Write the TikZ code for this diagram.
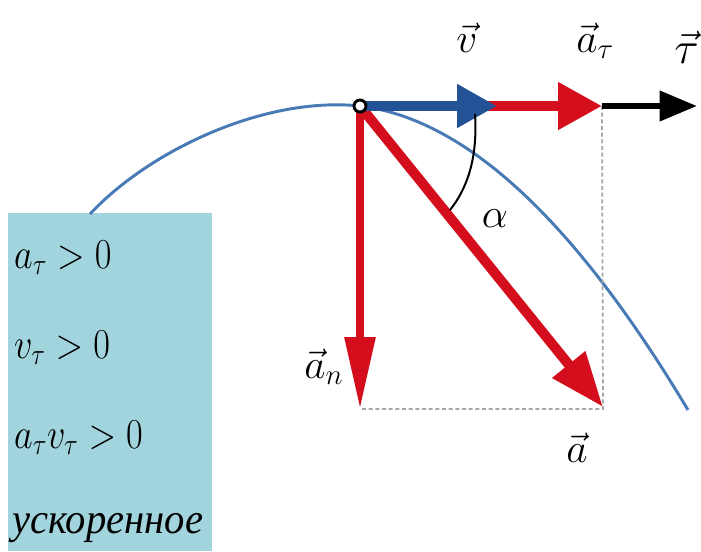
\documentclass[tikz,border=0pt]{standalone}
\usepackage{fix-cm}
\usepackage{amsmath}
\usepackage{fontspec}
\setmainfont{Liberation Serif}
\usetikzlibrary{arrows.meta}

\definecolor{boxblue}{RGB}{162,212,222}
\definecolor{curveblue}{RGB}{72,122,182}
\definecolor{vblue}{RGB}{36,82,150}
\definecolor{vred}{RGB}{212,14,28}

\begin{document}
\begin{tikzpicture}[x=0.75pt,y=-0.75pt,
    lbl/.style={font=\fontsize{31}{36}\selectfont, inner sep=0pt},
    boxtxt/.style={font=\fontsize{32}{36}\selectfont, inner sep=0pt, anchor=base west, xscale=0.85}]
    \useasboundingbox (0,0) rectangle (701,551);
    \fill[boxblue] (8,213) rectangle (212,551);
    % points of the picture
    \coordinate (O) at (360,106);
    \coordinate (vtip) at (497,106);
    \coordinate (attip) at (602,106);
    \coordinate (tautip) at (697,106);
    \coordinate (antip) at (360,409);
    \coordinate (atip) at (603,407);
    \coordinate (corner) at (603,409);
    % trajectory
    \draw[curveblue, line width=2.2pt] (90,214) .. controls (150,150) and (265,96) .. (O)
        .. controls (466,119) and (575,221) .. (688,410);
    % projections
    \draw[gray!70, line width=1.3pt, dash pattern=on 3pt off 2pt] (attip) -- (corner) -- (antip);
    % vectors
    \draw[vred, line width=7.5pt, -{Triangle[length=41pt,width=30pt]}] (O) -- (atip);
    \draw[vred, line width=6pt, -{Triangle[length=54pt,width=22pt]}] (O) -- (antip);
    \draw[black, line width=4.5pt, -{Triangle[length=28pt,width=22pt]}] (attip) -- (tautip);
    \draw[vred, line width=7.5pt, -{Triangle[length=33pt,width=34pt]}] (O) -- (attip);
    \draw[vblue, line width=7.5pt, -{Triangle[length=30pt,width=31pt]}] (O) -- (vtip);
    % angle
    \draw[black, line width=1.5pt] (475,114) .. controls (478,160) and (466,190) .. (450,210);
    \draw[black, line width=2.2pt, fill=white] (O) circle (6);
    % labels
    \node[lbl, anchor=base] (vlbl) at (467,52) {$\vec{v}$};
    \node[lbl, anchor=base west] (atlbl) at (576,52) {$\vec{a}_\tau$};
    \node[lbl, anchor=base west] (taulbl) at (674,63) {\fontsize{34}{36}\selectfont$\vec{\tau}$};
    \node[lbl, anchor=base west] (anlbl) at (304,378) {$\vec{a}_n$};
    \node[lbl, anchor=base west] (albl) at (566,462) {$\vec{a}$};
    \node[lbl, anchor=base] (alpha) at (495,227) {$\alpha$};
    % conditions
    \node[boxtxt] (c1) at (14,268) {$a_\tau > 0$};
    \node[boxtxt] (c2) at (14,358) {$v_\tau > 0$};
    \node[boxtxt] (c3) at (14,448) {$a_\tau v_\tau > 0$};
    \node[boxtxt, xscale=1.12] (c4) at (12,533) {\itshape ускоренное};
\end{tikzpicture}
\end{document}
